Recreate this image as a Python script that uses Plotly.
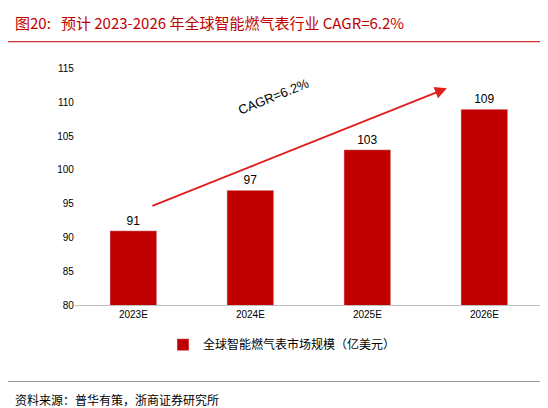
import plotly.graph_objects as go

years = ["2023E", "2024E", "2025E", "2026E"]
values = [91, 97, 103, 109]
y_ticks = [80, 85, 90, 95, 100, 105, 110, 115]

red = "#C00000"
font = "Liberation Sans, Arial, sans-serif"
cjk = "Noto Sans CJK SC"

fig = go.Figure()
fig.add_trace(go.Bar(x=years, y=values, marker_color=red, width=0.4,
                     text=[str(v) for v in values], textposition="outside",
                     textfont=dict(size=12, color="#000", family=font),
                     name="全球智能燃气表市场规模（亿美元）", cliponaxis=False))

fig.add_annotation(x=2.68, y=112.1, ax=0.15, ay=94.6, xref="x", yref="y",
                   axref="x", ayref="y", showarrow=True, arrowhead=2,
                   arrowsize=1.2, arrowwidth=2, arrowcolor="#E0201B", text="")
fig.add_annotation(x=1.2, y=110.9, xref="x", yref="y", text="CAGR=6.2%",
                   showarrow=False, textangle=-22,
                   font=dict(size=13, color="#000", family=font))

fig.add_annotation(x=0.01, y=1.0, xref="paper", yref="paper", yanchor="top",
                   xanchor="left", yshift=4, showarrow=False,
                   text="图20:   预计 2023-2026 年全球智能燃气表行业 CAGR=6.2%",
                   font=dict(size=15, color=red, family=cjk))
fig.add_annotation(x=0.01, y=0.0, xref="paper", yref="paper", yanchor="bottom",
                   xanchor="left", showarrow=False,
                   text="资料来源：普华有策，浙商证券研究所",
                   font=dict(size=12, color="#000", family=cjk))
fig.add_shape(type="line", xref="paper", yref="paper", x0=0, x1=1,
              y0=0.93, y1=0.93, line=dict(color=red, width=1))
fig.add_shape(type="line", xref="paper", yref="paper", x0=0, x1=1,
              y0=0.072, y1=0.072, line=dict(color="#999", width=1))

fig.update_layout(
    width=548, height=408, margin=dict(l=0, r=0, t=0, b=0),
    paper_bgcolor="white", plot_bgcolor="white",
    xaxis=dict(domain=[0.122, 0.976], showline=True, linecolor="#bfbfbf",
               tickfont=dict(size=10, color="#000", family=font), ticks=""),
    yaxis=dict(domain=[0.265, 0.862], range=[80, 115], tickvals=y_ticks,
               showgrid=False, showline=False,
               tickfont=dict(size=10, color="#000", family=font)),
    showlegend=True,
    legend=dict(x=0.5, xanchor="center", y=0.165, yanchor="middle",
                orientation="h", font=dict(size=12, family=cjk, color="#000")),
    font=dict(family=font),
)
fig.write_html("out.html")
